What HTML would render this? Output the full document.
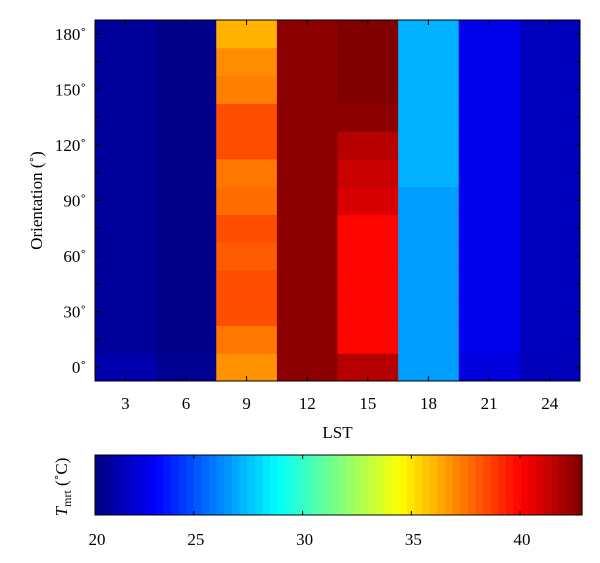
<!DOCTYPE html>
<html><head><meta charset="utf-8"><style>
body{margin:0;background:#fff;width:600px;height:558px;overflow:hidden}
svg text{font-family:"Liberation Serif",serif;fill:#000}
</style></head><body>
<svg id="chart" width="600" height="558"></svg>
<script>
const lstCats=[3,6,9,12,15,18,21,24];
const orientCats=[0,15,30,45,60,75,90,105,120,135,150,165,180];
// values per column (LST), rows from 0° to 180°
const col3=[21.45,21.05,21.05,21.05,21.05,21.05,21.05,21.05,21.05,21.05,21.05,21.05,21.05];
const col6=[20.85,20.65,20.65,20.65,20.65,20.65,20.65,20.65,20.65,20.65,20.65,20.65,20.65];
const col9=[36.85,37.45,38.35,38.35,38.05,38.35,37.65,37.45,38.35,38.35,37.25,36.95,36.15];
const col12=[42.55,42.55,42.55,42.55,42.55,42.55,42.55,42.55,42.55,42.55,42.55,42.55,42.55];
const col15=[41.65,39.95,39.95,39.95,39.95,39.95,40.9,41.25,41.65,42.55,42.85,42.85,42.85];
const col18=[26.75,26.75,26.75,26.75,26.75,26.75,26.75,27.15,27.15,27.15,27.15,27.15,27.15];
const col21=[22.55,22.85,22.85,22.85,22.85,22.85,22.85,22.85,22.85,22.85,22.85,22.85,22.85];
const col24=[21.75,21.85,21.85,21.85,21.85,21.85,21.85,21.85,21.85,21.85,21.85,21.85,21.85];
const columns=[col3,col6,col9,col12,col15,col18,col21,col24];
const xTicks=[3,6,9,12,15,18,21,24];
const yTicks=[0,30,60,90,120,150,180];
const cbTicks=[20,25,30,35,40];
const cMin=20.45,cMax=42.85;

const NS="http://www.w3.org/2000/svg";
const svg=document.getElementById('chart');
function mk(t,a,p){const e=document.createElementNS(NS,t);for(const k in a)e.setAttribute(k,a[k]);(p||svg).appendChild(e);return e;}
const PL=95,PR=580,PT=20,PB=381;
const xS=v=>PL+(v-1.5)/(25.5-1.5)*(PR-PL);
const yS=v=>PB-(v+7.5)/195*(PB-PT);
function jet(v){let t=(v-cMin)/(cMax-cMin);t=Math.max(0,Math.min(1,t));
 const c=x=>Math.round(255*Math.max(0,Math.min(1,x)));
 return `rgb(${c(1.5-Math.abs(4*t-3))},${c(1.5-Math.abs(4*t-2))},${c(1.5-Math.abs(4*t-1))})`;}
columns.forEach((col,i)=>{const x=lstCats[i];
 col.forEach((v,j)=>{const y=orientCats[j];
  const r=mk('rect',{x:xS(x-1.5),y:yS(y+7.5),width:xS(x+1.5)-xS(x-1.5)+0.5,height:yS(y-7.5)-yS(y+7.5)+0.5,fill:jet(v)});
  
  
 });});
const frame=mk('rect',{x:PL,y:PT,width:PR-PL,height:PB-PT,fill:'none',stroke:'#000','stroke-width':1});

xTicks.forEach(v=>{const x=xS(v);
 mk('line',{x1:x,x2:x,y1:PB,y2:PB-5,stroke:'#000'});mk('line',{x1:x,x2:x,y1:PT,y2:PT+5,stroke:'#000'});
 const t=mk('text',{x:x,y:PB+28,'text-anchor':'middle','font-size':17});t.textContent=v;
 });
orientCats.forEach(v=>{const y=yS(v);
 mk('line',{x1:PL,x2:PL+5,y1:y,y2:y,stroke:'#000'});mk('line',{x1:PR,x2:PR-5,y1:y,y2:y,stroke:'#000'});});
yTicks.forEach(v=>{const y=yS(v);
 const t=mk('text',{x:PL-9,y:y+6,'text-anchor':'end','font-size':17});t.textContent=v+'˚';
 });
let t=mk('text',{x:(PL+PR)/2,y:438,'text-anchor':'middle','font-size':17});t.textContent='LST';

t=mk('text',{x:0,y:0,'text-anchor':'middle','font-size':17,transform:`translate(42,${(PT+PB)/2}) rotate(-90)`});t.textContent='Orientation (˚)';

// colorbar
const CL=95,CR=582,CT=455,CB=515;
const cx=v=>CL+(Math.max(v,cMin)-cMin)/(cMax-cMin)*(CR-CL);
const g=mk('g',{});
const N=64;for(let k=0;k<N;k++){const v=cMin+(k+0.5)/N*(cMax-cMin);
 mk('rect',{x:CL+k*(CR-CL)/N,y:CT,width:(CR-CL)/N+0.6,height:CB-CT,fill:jet(v)},g);}
mk('rect',{x:CL,y:CT,width:CR-CL,height:CB-CT,fill:'none',stroke:'#000'},g);
cbTicks.forEach(v=>{const x=cx(v);
 if(v>=cMin){mk('line',{x1:x,x2:x,y1:CB,y2:CB-4,stroke:'#000'});mk('line',{x1:x,x2:x,y1:CT,y2:CT+4,stroke:'#000'});}
 const tt=mk('text',{x:x+2,y:CB+30,'text-anchor':'middle','font-size':17});tt.textContent=v;
 });
t=mk('text',{x:0,y:0,'text-anchor':'middle','font-size':17,transform:`translate(67,${(CT+CB)/2+2}) rotate(-90)`});
t.innerHTML='<tspan font-style="italic">T</tspan><tspan font-size="12" dy="4">mrt</tspan><tspan dy="-4"> (˚C)</tspan>';

</script>
</body></html>
